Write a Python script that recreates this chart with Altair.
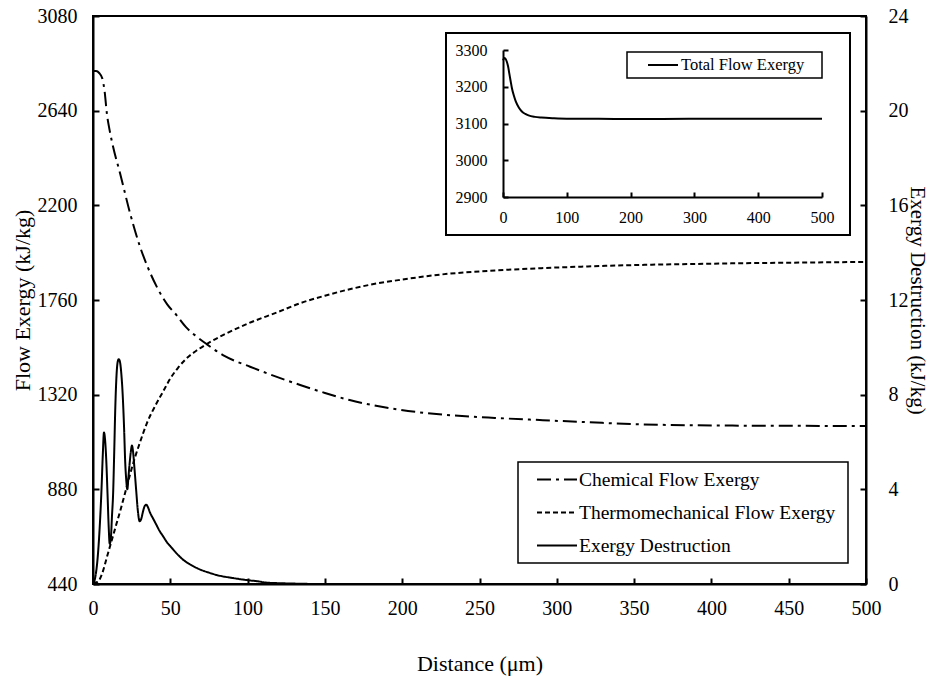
import altair as alt
import pandas as pd

FONT = "Liberation Serif, Times New Roman, serif"

# Chemical flow exergy along the channel (kJ/kg)
chem_dist = [0, 2, 4, 6, 7.5, 9, 11, 13, 17.5, 24, 30.4, 35, 41.2, 48, 54, 60, 67, 73.5,
             85, 101.6, 118, 134, 150, 166, 182, 199, 229, 260, 289, 320, 354, 385, 418, 460, 500]
chem_vals = [2824, 2824, 2815, 2790, 2730, 2625, 2540, 2472, 2349, 2163, 2008, 1920, 1822, 1740,
             1690, 1635, 1590, 1555, 1500, 1450, 1405, 1365, 1328, 1295, 1270, 1249, 1226, 1212,
             1202, 1192, 1182, 1178, 1176, 1175, 1174]

# Thermomechanical flow exergy (kJ/kg)
thermo_dist = [0, 3, 6, 9, 12, 15, 18, 21, 24, 27, 30, 35, 40, 45, 50, 55, 60, 67, 73.5, 85,
               100, 120, 134, 150, 166, 180, 200, 230, 260, 290, 320, 354, 385, 420, 460, 500]
thermo_vals = [445, 450, 490, 565, 640, 715, 790, 870, 950, 1025, 1090, 1190, 1265, 1330, 1395,
               1445, 1485, 1525, 1555, 1600, 1650, 1705, 1745, 1780, 1810, 1832, 1855, 1882,
               1897, 1908, 1916, 1923, 1927, 1931, 1934, 1937]

# Exergy destruction (kJ/kg), right axis
dest_dist = [0, 1.5, 3, 4.5, 5.5, 6.3, 7.1, 7.8, 8.6, 9.4, 10.1, 10.8, 11.5, 12.3, 13, 13.7,
             14.4, 15.2, 16, 16.6, 17.4, 18.3, 19.2, 20.1, 20.8, 21.5, 22.2, 22.9, 23.7, 24.5,
             25.2, 25.9, 26.8, 28, 29, 30.2, 31.2, 32.3, 33.5, 34.5, 35.5, 37, 39, 41, 43, 45.5,
             48, 50, 54, 58.4, 63, 69, 75, 80, 90.7, 101.6, 106, 112, 123, 135, 145, 200, 300,
             400, 500]
dest_vals = [0.0, 0.3, 1.1, 2.6, 4.0, 5.4, 6.4, 6.1, 5.2, 3.8, 2.5, 1.7, 1.9, 2.9, 3.8, 5.5,
             7.4, 8.8, 9.4, 9.5, 9.4, 8.9, 8.0, 6.6, 5.2, 4.4, 4.0, 4.5, 5.1, 5.6, 5.85, 5.6,
             4.9, 3.9, 3.1, 2.65, 2.75, 3.05, 3.3, 3.35, 3.25, 3.0, 2.75, 2.5, 2.25, 2.0, 1.75,
             1.6, 1.3, 1.02, 0.82, 0.62, 0.48, 0.38, 0.25, 0.15, 0.12, 0.06, 0.03, 0.01, 0.0,
             0.0, 0.0, 0.0, 0.0]

# Total flow exergy (kJ/kg), inset
total_dist = [0, 2, 4, 6, 8, 10, 12, 14, 17, 20, 25, 30, 35, 40, 50, 60, 80, 100, 150, 200,
              300, 400, 500]
total_vals = [3272, 3278, 3276, 3268, 3255, 3235, 3215, 3196, 3176, 3160, 3143, 3132, 3126,
              3122, 3118, 3116, 3114, 3113, 3113, 3112, 3113, 3113, 3113]

CHEM = "Chemical Flow Exergy"
THERMO = "Thermomechanical Flow Exergy"
DEST = "Exergy Destruction"
TOTAL = "Total Flow Exergy"

flow_df = pd.concat([
    pd.DataFrame({"distance": chem_dist, "value": chem_vals, "series": CHEM}),
    pd.DataFrame({"distance": thermo_dist, "value": thermo_vals, "series": THERMO}),
])
dest_df = pd.DataFrame({"distance": dest_dist, "value": dest_vals, "series": DEST})
total_df = pd.DataFrame({"distance": total_dist, "value": total_vals, "series": TOTAL})

W, H = 773, 568
inward = {"expr": "-6"}
inward_small = {"expr": "-5"}

dash_scale = alt.Scale(domain=[CHEM, THERMO, DEST],
                       range=[[14, 5, 3, 5], [5, 3], [1, 0]])

main_legend = alt.Legend(
    title=None, orient="none", legendX=443, legendY=454, padding=0,
    symbolType="stroke", symbolSize=1600, symbolStrokeWidth=2, symbolStrokeColor="black",
    clipHeight=19, rowPadding=13, labelOffset=1, labelFontSize=19.5, labelFont=FONT,
    labelColor="black", labelLimit=400,
)

x_axis = alt.Axis(
    orient="bottom", values=list(range(0, 501, 50)), format="d", tickSize=inward, tickWidth=2,
    labelPadding=20, labelFlush=False, title="Distance (μm)", titleX=W / 2, titleY=79,
    titleBaseline="middle", titleAlign="center",
)
left_axis = alt.Axis(
    orient="left", values=[440, 880, 1320, 1760, 2200, 2640, 3080], format="d", tickSize=inward,
    tickWidth=2, labelPadding=22, title="Flow Exergy (kJ/kg)", titleX=-71, titleY=H / 2,
    titleAngle=-90, titleBaseline="middle", titleAlign="center",
)
right_axis = alt.Axis(
    orient="right", values=[0, 4, 8, 12, 16, 20, 24], format="d", tickSize=inward, tickWidth=2,
    labelPadding=28, title="Exergy Destruction (kJ/kg)", titleX=50, titleY=H / 2,
    titleAngle=90, titleBaseline="middle", titleAlign="center", titleFontSize=21,
)

flow = alt.Chart(flow_df).mark_line(color="black", strokeWidth=2, interpolate="monotone").encode(
    x=alt.X("distance:Q", scale=alt.Scale(domain=[0, 500], nice=False, zero=False), axis=x_axis),
    y=alt.Y("value:Q", scale=alt.Scale(domain=[440, 3080], nice=False, zero=False), axis=left_axis),
    strokeDash=alt.StrokeDash("series:N", scale=dash_scale, legend=main_legend),
)

dest = alt.Chart(dest_df).mark_line(color="black", strokeWidth=2, interpolate="monotone").encode(
    x=alt.X("distance:Q", scale=alt.Scale(domain=[0, 500], nice=False, zero=False), axis=None),
    y=alt.Y("value:Q", scale=alt.Scale(domain=[0, 24], nice=False), axis=right_axis),
    strokeDash=alt.StrokeDash("series:N", scale=dash_scale, legend=main_legend),
)

# Inset: total flow exergy on its own small axes
inset_x_axis = alt.Axis(
    orient="bottom", values=[0, 100, 200, 300, 400, 500], format="d", tickSize=inward_small,
    tickWidth=2, labelPadding=17, labelFlush=False, labelFontSize=16, title=None, offset=-387,
)
inset_y_axis = alt.Axis(
    orient="left", values=[2900, 3000, 3100, 3200, 3300], format="d", tickSize=inward_small,
    tickWidth=2, labelPadding=21, labelFontSize=16, title=None, offset=-410,
)
inset_legend = alt.Legend(
    title=None, orient="none", legendX=554, legendY=41, padding=0,
    symbolType="stroke", symbolSize=900, symbolStrokeWidth=2,
    clipHeight=16, labelOffset=2, labelFontSize=16.5, labelFont=FONT, labelColor="black",
)
inset = alt.Chart(total_df).mark_line(strokeWidth=2, interpolate="monotone").encode(
    x=alt.X("distance:Q", scale=alt.Scale(domain=[0, 500], range=[410, 729], nice=False, zero=False),
            axis=inset_x_axis),
    y=alt.Y("value:Q", scale=alt.Scale(domain=[2900, 3300], range=[181, 34], nice=False, zero=False),
            axis=inset_y_axis),
    color=alt.Color("series:N", scale=alt.Scale(domain=[TOTAL], range=["black"]), legend=inset_legend),
)

one = alt.Data(values=[{}])
inset_frame = alt.Chart(one).mark_rect(filled=False, stroke="black", strokeWidth=2).encode(
    x=alt.value(353), x2=alt.value(757), y=alt.value(17), y2=alt.value(219))
inset_legend_frame = alt.Chart(one).mark_rect(filled=False, stroke="black", strokeWidth=1.5).encode(
    x=alt.value(534), x2=alt.value(729), y=alt.value(36), y2=alt.value(62))
legend_frame = alt.Chart(one).mark_rect(filled=False, stroke="black", strokeWidth=1.5).encode(
    x=alt.value(425), x2=alt.value(755), y=alt.value(446), y2=alt.value(547))

chart = alt.layer(
    inset_frame, inset_legend_frame, legend_frame, flow, dest, inset
).resolve_scale(
    x="independent", y="independent", color="independent"
).properties(
    width=W, height=H,
    autosize=alt.AutoSizeParams(type="none"),
    padding={"left": 93, "top": 16, "right": 63, "bottom": 92},
).configure(
    font=FONT,
).configure_view(
    stroke="black", strokeWidth=2,
).configure_axis(
    grid=False, domainColor="black", domainWidth=2, tickColor="black",
    labelFont=FONT, labelFontSize=20, labelColor="black",
    titleFont=FONT, titleFontSize=22, titleFontWeight="normal", titleColor="black",
    labelOverlap=False,
).configure_legend(
    labelFont=FONT,
)

chart.save("out.html", embed_options={"renderer": "svg", "actions": False})
